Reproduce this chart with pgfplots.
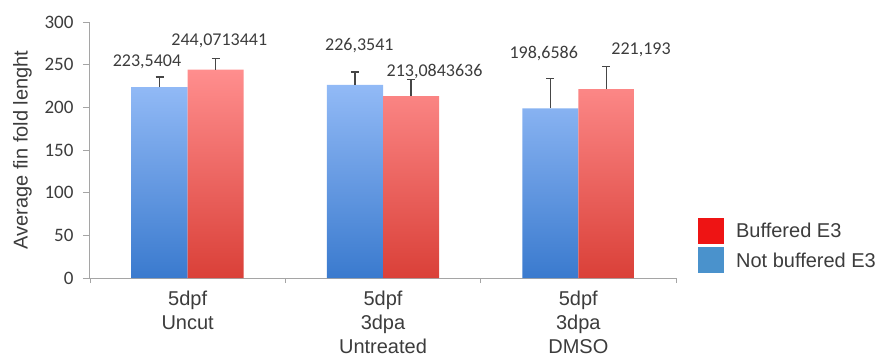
\documentclass[border=0pt]{standalone}
\usepackage{fontspec}
\setmainfont{Liberation Sans}
\newfontfamily\carlito{Carlito}
\usepackage{pgfplots}
\pgfplotsset{compat=1.18}
\definecolor{bluetop}{RGB}{146,186,246}
\definecolor{bluebot}{RGB}{58,122,206}
\definecolor{redtop}{RGB}{255,142,142}
\definecolor{redbot}{RGB}{218,64,56}
\definecolor{legred}{RGB}{238,20,20}
\definecolor{legblue}{RGB}{74,146,204}
\definecolor{axgray}{RGB}{165,165,165}
\definecolor{errgray}{RGB}{70,70,70}
\definecolor{txtgray}{RGB}{60,60,60}
\begin{document}
\begin{tikzpicture}
\begin{axis}[
  scale only axis, width=586pt, height=256pt,
  at={(0,0)}, anchor=south west,
  xmin=-0.5, xmax=2.5, ymin=0, ymax=300,
  clip=false,
  axis lines*=left,
  axis line style={axgray, line width=1pt},
  tick align=outside,
  tick style={axgray, line width=0.8pt},
  major tick length=7pt, minor tick length=5pt,
  xtick={0,1,2},
  xticklabels={{5dpf\\Uncut},{5dpf\\3dpa\\Untreated},{5dpf\\3dpa\\DMSO}},
  minor xtick={-0.5,0.5,1.5,2.5},
  major x tick style={draw=none},
  xticklabel style={align=center, font=\fontsize{20}{24}\selectfont, text=txtgray, yshift=-2pt},
  ytick={0,50,...,300},
  yticklabel style={font=\carlito\fontsize{19}{19}\selectfont, text=txtgray, xshift=-6pt},
  /pgf/number format/assume math mode=true,
  ylabel={Average fin fold lenght},
  ylabel style={font=\fontsize{20}{20}\selectfont, text=txtgray},
  ylabel shift=6pt,
  ybar, bar width=0.287,
  legend style={at={(1.032,0.243)}, anchor=north west, draw=none, fill=none,
    font=\fontsize{20}{24}\selectfont, text=txtgray, row sep=4pt},
  legend cell align=left,
]
\addplot[forget plot, draw=none, shading=axis, top color=bluetop, bottom color=bluebot, bar shift=-0.1435,
  error bars/.cd, y dir=plus, y explicit,
  error bar style={errgray, line width=1.2pt},
  error mark options={rotate=90, errgray, mark size=4pt, line width=1.2pt}]
  coordinates {(0,223.5404) +- (0,12) (1,226.3541) +- (0,15) (2,198.6586) +- (0,35)};
\addplot[forget plot, draw=none, shading=axis, top color=redtop, bottom color=redbot, bar shift=0.1435,
  error bars/.cd, y dir=plus, y explicit,
  error bar style={errgray, line width=1.2pt},
  error mark options={rotate=90, errgray, mark size=4pt, line width=1.2pt}]
  coordinates {(0,244.0713441) +- (0,13) (1,213.0843636) +- (0,20) (2,221.193) +- (0,27)};
\addlegendimage{legend image code/.code={\fill[legred] (0pt,-12pt) rectangle (25pt,13pt); \path[draw=none,fill=none] (0pt,0pt) rectangle (36pt,1pt);}}
\addlegendentry{Buffered E3}
\addlegendimage{legend image code/.code={\fill[legblue] (0pt,-12pt) rectangle (25pt,13pt); \path[draw=none,fill=none] (0pt,0pt) rectangle (36pt,1pt);}}
\addlegendentry{Not buffered E3}
\begin{scope}[every node/.style={font=\carlito\fontsize{18}{18}\selectfont, text=txtgray}]
\node at (axis cs:-0.208,252.9) {223,5404};
\node at (axis cs:0.162,277.5) {244,0713441};
\node at (axis cs:0.879,272.8) {226,3541};
\node at (axis cs:1.264,242.4) {213,0843636};
\node at (axis cs:1.823,263.5) {198,6586};
\node at (axis cs:2.321,267) {221,193};
\end{scope}
\end{axis}
\pgfresetboundingbox
\path[use as bounding box] (-90pt,-81pt) rectangle (799pt,278pt);
\end{tikzpicture}
\end{document}
